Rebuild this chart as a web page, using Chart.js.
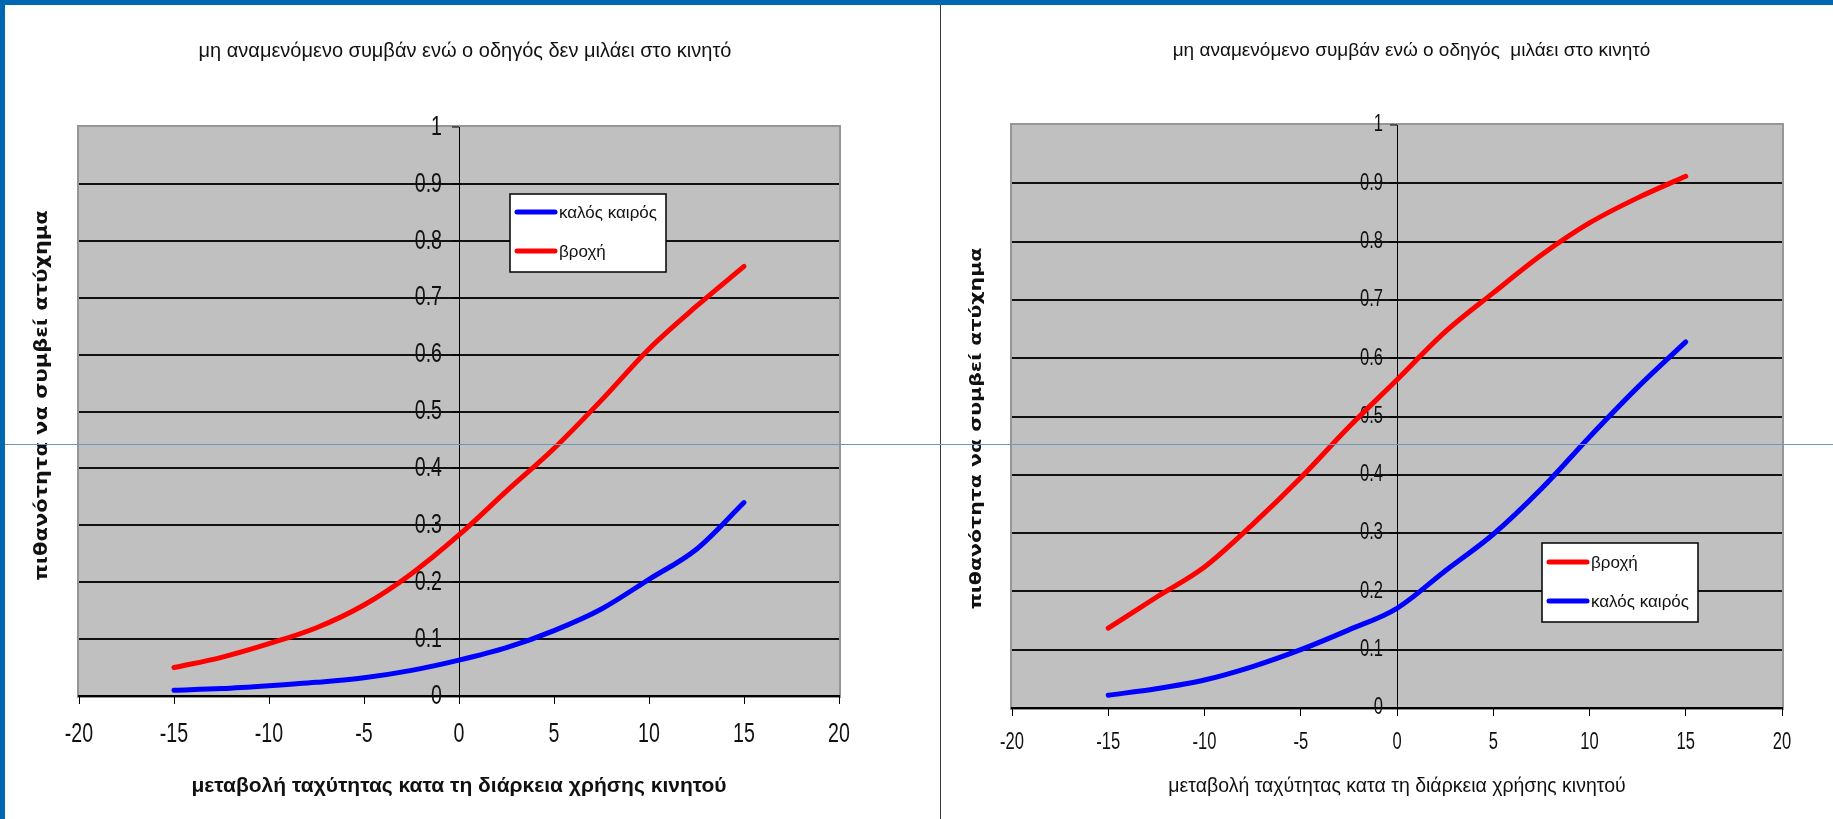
<!DOCTYPE html>
<html>
<head>
<meta charset="utf-8">
<title>πιθανότητα ατυχήματος</title>
<script src="https://cdn.jsdelivr.net/npm/chart.js@4.4.1/dist/chart.umd.min.js"></script>
<style>
  html, body { margin: 0; padding: 0; background: #fff; }
  body { width: 1833px; height: 819px; position: relative; overflow: hidden; }
  .frame-top { position: absolute; left: 0; top: 0; width: 1833px; height: 5px; background: #0068b0; z-index: 4; }
  .frame-left { position: absolute; left: 0; top: 0; width: 5px; height: 819px; background: #0068b0; z-index: 4; }
  .divider { position: absolute; left: 940px; top: 5px; width: 1px; height: 814px; background: #3a3a3a; z-index: 3; }
  .guide { position: absolute; left: 5px; top: 444px; width: 1828px; height: 1px; background: #6f97b8; z-index: 5; }
  .panel { position: absolute; top: 5px; height: 814px; }
  #panelA { left: 5px; width: 920px; }
  #panelB { left: 941px; width: 941px; }
</style>
</head>
<body>
<div class="frame-top"></div>
<div class="frame-left"></div>
<div class="panel" id="panelA"><canvas id="chartA"></canvas></div>
<div class="panel" id="panelB"><canvas id="chartB"></canvas></div>
<div class="divider"></div>
<div class="guide"></div>

<script>
// --- data ---
const X_VALUES = [-15, -12.5, -10, -7.5, -5, -2.5, 0, 2.5, 5, 7.5, 10, 12.5, 15];
const X_TICKS = [-20, -15, -10, -5, 0, 5, 10, 15, 20];
const Y_TICKS = [0, 0.1, 0.2, 0.3, 0.4, 0.5, 0.6, 0.7, 0.8, 0.9, 1];

const LABEL_GOOD = 'καλός καιρός';
const LABEL_RAIN = 'βροχή';
const X_TITLE = 'μεταβολή ταχύτητας κατα τη διάρκεια χρήσης κινητού';
const Y_TITLE = 'πιθανότητα να συμβεί ατύχημα';

// left: driver not on the phone
const TITLE_NO_PHONE = 'μη αναμενόμενο συμβάν ενώ ο οδηγός δεν μιλάει στο κινητό';
const NO_PHONE_GOOD = [0.010, 0.013, 0.018, 0.024, 0.032, 0.045, 0.063, 0.085, 0.115, 0.153, 0.205, 0.258, 0.340];
const NO_PHONE_RAIN = [0.050, 0.068, 0.092, 0.120, 0.160, 0.215, 0.283, 0.360, 0.435, 0.520, 0.610, 0.685, 0.755];

// right: driver on the phone
const TITLE_PHONE = 'μη αναμενόμενο συμβάν ενώ ο οδηγός  μιλάει στο κινητό';
const PHONE_RAIN = [0.137, 0.190, 0.242, 0.315, 0.395, 0.482, 0.563, 0.645, 0.712, 0.777, 0.832, 0.875, 0.912];
const PHONE_GOOD = [0.022, 0.033, 0.048, 0.071, 0.100, 0.134, 0.171, 0.235, 0.298, 0.376, 0.465, 0.550, 0.628];

const RED = '#ff0000';
const BLUE = '#0000ff';

Chart.defaults.font.family = "'Liberation Sans', Arial, sans-serif";
Chart.defaults.color = '#111';

// grey plot area with its thin border
const plotBackground = {
  id: 'plotBackground',
  beforeDraw(chart) {
    const { ctx, chartArea: a } = chart;
    ctx.save();
    ctx.fillStyle = '#c0c0c0';
    ctx.fillRect(a.left, a.top, a.right - a.left, a.bottom - a.top);
    ctx.strokeStyle = '#969696';
    ctx.lineWidth = 2;
    ctx.strokeRect(a.left - 1, a.top - 1, a.right - a.left + 2, a.bottom - a.top + 2);
    ctx.restore();
  }
};

// boxed legend sitting inside the plot, like the old Excel one
const boxLegend = {
  id: 'boxLegend',
  afterDatasetsDraw(chart, args, opts) {
    const ctx = chart.ctx;
    ctx.save();
    ctx.fillStyle = '#fff';
    ctx.fillRect(opts.left, opts.top, opts.width, opts.height);
    ctx.strokeStyle = '#000';
    ctx.lineWidth = 1.5;
    ctx.strokeRect(opts.left, opts.top, opts.width, opts.height);
    chart.data.datasets.forEach((ds, i) => {
      const y = opts.top + opts.firstRow + i * opts.rowGap;
      ctx.strokeStyle = ds.borderColor;
      ctx.lineWidth = ds.borderWidth;
      ctx.lineCap = 'round';
      ctx.beginPath();
      ctx.moveTo(opts.left + 7, y);
      ctx.lineTo(opts.left + 45, y);
      ctx.stroke();
      ctx.fillStyle = '#111';
      ctx.font = opts.font;
      ctx.textBaseline = 'middle';
      ctx.textAlign = 'left';
      ctx.fillText(ds.label, opts.left + 49, y + 1);
    });
    ctx.restore();
  }
};

// The old chart's text is stretched (tall narrow digits); squeeze some of it.
// spec: { scaleId: { methodName: { sx, sy, dx } } }
function textSqueeze(spec) {
  return {
    id: 'textSqueeze',
    afterLayout(chart) {
      Object.keys(spec).forEach(scaleId => {
        const scale = chart.scales[scaleId];
        if (!scale || scale._squeezed) return;
        Object.keys(spec[scaleId]).forEach(method => {
          const s = spec[scaleId][method];
          const orig = scale[method];
          scale[method] = function () {
            const ctx = this.ctx;
            const fill = ctx.fillText;
            ctx.fillText = function (text, x, y) {
              this.save();
              this.translate(x + (s.dx || 0), y);
              this.scale(s.sx || 1, s.sy || 1);
              fill.call(this, text, 0, 0);
              this.restore();
            };
            orig.apply(this, arguments);
            delete ctx.fillText;
          };
        });
        scale._squeezed = true;
      });
    }
  };
}

function toPoints(values) {
  return X_VALUES.map((x, i) => ({ x: x, y: values[i] }));
}

function makeSeries(label, values, color) {
  return {
    label: label,
    data: toPoints(values),
    borderColor: color,
    backgroundColor: color,
    borderWidth: 5,
    borderCapStyle: 'round',
    borderJoinStyle: 'round',
    pointRadius: 0,
    cubicInterpolationMode: 'monotone',
    yAxisID: 'y'
  };
}

function makeChart(id, title, datasets, p) {
  return new Chart(document.getElementById(id), {
    type: 'line',
    data: { datasets: datasets },
    plugins: [plotBackground, boxLegend, textSqueeze(p.squeeze)],
    options: {
      responsive: true,
      maintainAspectRatio: false,
      animation: false,
      devicePixelRatio: 1,
      layout: { padding: 0 },
      plugins: {
        legend: { display: false },
        tooltip: { enabled: false },
        title: {
          display: true,
          text: title,
          color: '#111',
          font: { size: p.titleSize, weight: 'normal' },
          padding: { top: p.titleTop, bottom: p.titleBottom }
        },
        boxLegend: p.legend
      },
      scales: {
        x: {
          type: 'linear',
          min: -20,
          max: 20,
          afterBuildTicks: s => { s.ticks = X_TICKS.map(v => ({ value: v })); },
          afterFit: s => { s.height = p.xAxisHeight; },
          ticks: { font: { size: p.tickSize }, color: '#111', padding: p.xTickPad, maxRotation: 0, autoSkip: false },
          grid: { drawOnChartArea: false, drawTicks: true, tickLength: 8, tickColor: '#000', lineWidth: 1 },
          border: { display: true, color: '#000', width: 2 },
          title: { display: true, text: X_TITLE, color: '#111', font: p.xTitleFont, padding: { top: 0, bottom: p.xTitlePad } }
        },
        y: {
          type: 'linear',
          min: 0,
          max: 1,
          position: { x: 0 },
          afterBuildTicks: s => { s.ticks = Y_TICKS.map(v => ({ value: v })); },
          ticks: { font: { size: p.tickSize }, color: '#111', padding: 0, callback: v => String(v) },
          grid: {
            color: c => (c.tick && c.tick.value === 1 ? 'rgba(0,0,0,0)' : '#111'),
            lineWidth: 2,
            drawTicks: true,
            tickLength: 7,
            tickColor: '#000',
            tickWidth: 1
          },
          border: { display: true, color: '#000', width: 1 }
        },
        yTitle: {
          type: 'linear',
          min: 0,
          max: 1,
          position: 'left',
          afterFit: s => { s.width = p.yTitleWidth; },
          ticks: { display: false },
          grid: { display: false },
          border: { display: false },
          title: {
            display: true,
            text: Y_TITLE,
            color: '#111',
            font: { family: "'DejaVu Sans', sans-serif", size: p.yTitleSize, weight: 'bold' },
            padding: { top: p.yTitlePad, bottom: 0 }
          }
        },
        // empty strip on the right, keeps the title centred where the original had it
        rightGap: {
          type: 'linear',
          position: 'right',
          afterFit: s => { s.width = p.rightGap; },
          ticks: { display: false },
          grid: { display: false },
          border: { display: false }
        }
      }
    }
  });
}

makeChart('chartA', TITLE_NO_PHONE, [
  makeSeries(LABEL_GOOD, NO_PHONE_GOOD, BLUE),
  makeSeries(LABEL_RAIN, NO_PHONE_RAIN, RED)
], {
  rightGap: 86, titleSize: 20, titleTop: 34, titleBottom: 64,
  xAxisHeight: 123, xTickPad: 13, xTitlePad: 20.4,
  xTitleFont: { size: 21, weight: 'bold' },
  tickSize: 28,
  yTitleWidth: 74, yTitleSize: 21, yTitlePad: 25.4,
  legend: { left: 505, top: 189, width: 156, height: 78, firstRow: 18, rowGap: 39, font: "17px 'Liberation Sans', Arial, sans-serif" },
  squeeze: {
    x: { drawLabels: { sx: 0.7 } },
    y: { drawLabels: { sx: 0.7, dx: -17 } },
    yTitle: { drawTitle: { sy: 0.8, dx: 16 } }
  }
});

makeChart('chartB', TITLE_PHONE, [
  makeSeries(LABEL_RAIN, PHONE_RAIN, RED),
  makeSeries(LABEL_GOOD, PHONE_GOOD, BLUE)
], {
  rightGap: 100, titleSize: 19, titleTop: 34.6, titleBottom: 62.6,
  xAxisHeight: 111, xTickPad: 13, xTitlePad: 20.4,
  xTitleFont: { size: 19.5, weight: 'normal' },
  tickSize: 23,
  yTitleWidth: 71, yTitleSize: 20.5, yTitlePad: 23.7,
  legend: { left: 601, top: 538, width: 156, height: 79, firstRow: 19, rowGap: 39, font: "17px 'Liberation Sans', Arial, sans-serif" },
  squeeze: {
    x: { drawLabels: { sx: 0.72 } },
    y: { drawLabels: { sx: 0.72, dx: -14 } },
    yTitle: { drawTitle: { sy: 0.8, dx: -12 } }
  }
});
</script>
</body>
</html>
